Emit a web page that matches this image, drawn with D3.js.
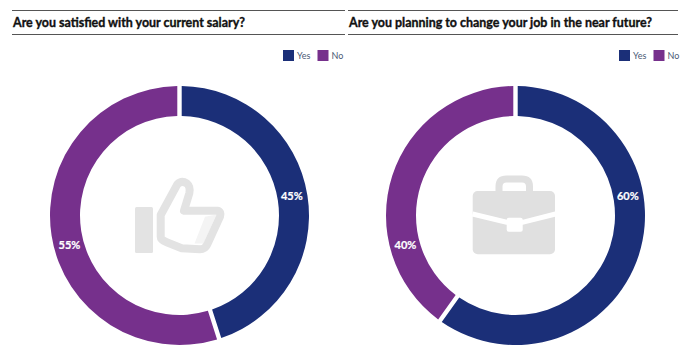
<!DOCTYPE html>
<html>
<head>
<meta charset="utf-8">
<script src="https://cdn.jsdelivr.net/npm/d3@7"></script>
<style>
  html, body { margin: 0; padding: 0; background: #fff; }
  svg { display: block; }
  text { font-family: Lato, sans-serif; }
</style>
</head>
<body>
<div id="chart"></div>
<script>
// values
const categories = ["Yes", "No"];
const titles = [
  "Are you satisfied with your current salary?",
  "Are you planning to change your job in the near future?"
];
const salaryValues = [45, 55];
const jobValues = [60, 40];

const colors = d3.scaleOrdinal().domain(categories).range(["#1b2f78", "#76308c"]);

const W = 687, H = 352;
const outerR = 129.5, innerR = 99.5;

const svg = d3.select("#chart").append("svg").attr("width", W).attr("height", H);

const pie = d3.pie().sort(null).value((d) => d.value).padAngle(0.027);
const arc = d3.arc().innerRadius(innerR).outerRadius(outerR);

// label position on the ring, the source does not use slice centroids
const labelRadius = 114;

function drawPanel(opts) {
  const g = svg.append("g");

  g.append("line").attr("x1", opts.left).attr("x2", opts.right).attr("y1", 10.5).attr("y2", 10.5)
    .attr("stroke", "#555").attr("stroke-width", 1.2);
  g.append("line").attr("x1", opts.left).attr("x2", opts.right).attr("y1", 34.5).attr("y2", 34.5)
    .attr("stroke", "#555").attr("stroke-width", 1.2);
  g.append("text").attr("x", opts.left + 1).attr("y", 26.5)
    .attr("font-size", 12.45).attr("font-weight", 700).attr("fill", "#111")
    .attr("stroke", "#111").attr("stroke-width", 0.35)
    .text(opts.title);

  // legend
  const legend = g.append("g").attr("transform", `translate(${opts.legendX},50)`);
  categories.forEach((c, i) => {
    const item = legend.append("g").attr("transform", `translate(${i * 34.5},0)`);
    item.append("rect").attr("width", 11).attr("height", 11).attr("fill", colors(c));
    item.append("text").attr("x", 14).attr("y", 9)
      .attr("font-size", 9).attr("fill", "#4a5a75").text(c);
  });

  const ring = g.append("g").attr("transform", `translate(${opts.cx},215.5)`);
  const data = categories.map((c, i) => ({ category: c, value: opts.values[i] }));

  ring.selectAll("path").data(pie(data)).join("path")
    .attr("d", arc)
    .attr("fill", (d) => colors(d.data.category));

  ring.selectAll("text").data(pie(data)).join("text")
    .attr("x", (d, i) => labelRadius * Math.sin(opts.labelAngles[i] * Math.PI / 180))
    .attr("y", (d, i) => -labelRadius * Math.cos(opts.labelAngles[i] * Math.PI / 180))
    .attr("dy", "0.35em")
    .attr("text-anchor", "middle")
    .attr("font-size", 11).attr("font-weight", 700).attr("fill", "#fff")
    .attr("stroke", "#fff").attr("stroke-width", 0.2)
    .text((d) => d.data.value + "%");

  opts.icon(ring);
}

function thumbIcon(ring) {
  const g = ring.append("g");
  g.append("rect").attr("x", -44.5).attr("y", -8.5).attr("width", 18).attr("height", 46).attr("rx", 1.5)
    .attr("fill", "#e3e3e3");
  g.append("path").attr("d", "M25.5 1.2 L37 -1 L24 28 L15 28 Z").attr("fill", "#f4f4f4");
  g.append("path")
    .attr("d", "M-18.8 -0.5 L-2.2 -31.2 Q2.2 -35.5 7.2 -32.2 Q11.2 -28.8 9.8 -22.2 L4.5 -4.8 L37.8 -4.8 Q42.2 -3.8 40.5 1.2 L27.8 28.8 Q25.5 33.8 20.5 33.8 L2.2 32.8 L-12.8 26.8 Q-18.8 24.5 -18.8 21.2 Z")
    .attr("fill", "none").attr("stroke", "#e3e3e3").attr("stroke-width", 8).attr("stroke-linejoin", "round");
}

function caseIcon(ring) {
  const g = ring.append("g");
  g.append("path")
    .attr("d", "M-16.5 -24 L-16.5 -29 Q-16.5 -36.5 -9 -36.5 L6.5 -36.5 Q14 -36.5 14 -29 L14 -24")
    .attr("fill", "none").attr("stroke", "#e0e0e0").attr("stroke-width", 7);
  g.append("rect").attr("x", -42.8).attr("y", -24.5).attr("width", 82.3).attr("height", 63.3).attr("rx", 5)
    .attr("fill", "#e0e0e0");
  g.append("path").attr("d", "M-43 -1.5 L-9 6.8 L7 6.8 L40 -1.5")
    .attr("fill", "none").attr("stroke", "#fff").attr("stroke-width", 5);
  g.append("rect").attr("x", -8.8).attr("y", 2.2).attr("width", 16).attr("height", 14).attr("rx", 2)
    .attr("fill", "#fff");
}

drawPanel({ left: 12, right: 345, cx: 179.5, legendX: 283, title: titles[0], values: salaryValues, labelAngles: [80, 255], icon: thumbIcon });
drawPanel({ left: 348, right: 678, cx: 515.5, legendX: 619, title: titles[1], values: jobValues, labelAngles: [80, 255], icon: caseIcon });
</script>
</body>
</html>
